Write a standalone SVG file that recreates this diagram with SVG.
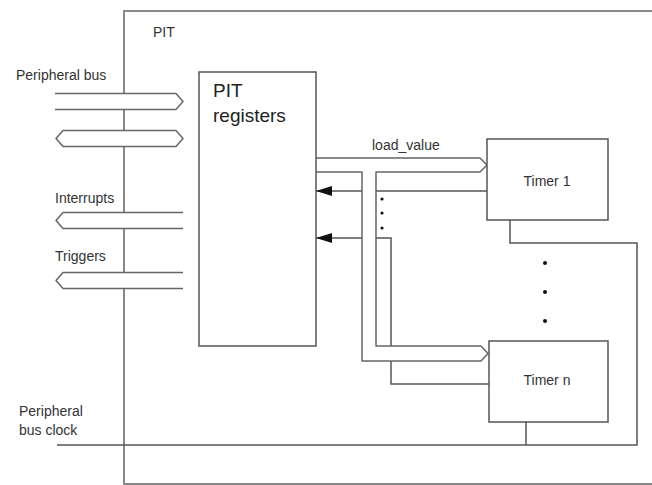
<svg xmlns="http://www.w3.org/2000/svg" width="652" height="485" viewBox="0 0 652 485">
<style>
.ln{fill:none;stroke:#555;stroke-width:1.5}
.bx{fill:#fff;stroke:#555;stroke-width:1.5}
.bus{fill:#fff;stroke:#666;stroke-width:1.5;stroke-linejoin:round}
.t{font-family:"Liberation Sans",Arial,sans-serif;font-size:14px;fill:#333}
.tb{font-family:"Liberation Sans",Arial,sans-serif;font-size:19px;fill:#222}
.dot{fill:#111}
</style>
<defs>
<marker id="ah" viewBox="0 0 16 10" refX="16" refY="5" markerWidth="16" markerHeight="10" markerUnits="userSpaceOnUse" orient="auto">
<path d="M0,0 L16,5 L0,10 Z" fill="#111"/>
</marker>
</defs>
<g id="pit">
<path d="M660,11 H124 V484 H660" fill="none" stroke="#888" stroke-width="2"/>
<text class="t" x="153" y="37">PIT</text>
</g>
<g id="connectors">
<path class="bus" d="M55,93.5 H176 L183,101.5 L176,109.5 H55"/>
<path class="bus" d="M63,130.5 H176 L183,138.5 L176,146.5 H63 L56,138.5 Z"/>
<path class="bus" d="M183,212.5 H63 L56,220.5 L63,228.5 H183"/>
<path class="bus" d="M183,272.5 H63 L56,280.5 L63,288.5 H183"/>
<path class="ln" d="M487,191 H316" marker-end="url(#ah)"/>
<path class="ln" d="M489,384 H391 V238 H316" marker-end="url(#ah)"/>
<path class="bus" d="M316,158 H480 L487,165 L480,172 H376 V346 H481 L488,353.5 L481,361 H362 V172 H316"/>
<path class="ln" d="M57,445 H637 V243 H510 V220"/>
<path class="ln" d="M526,422 V445"/>
<circle class="dot" cx="382" cy="199" r="1.6"/>
<circle class="dot" cx="382" cy="213" r="1.6"/>
<circle class="dot" cx="382" cy="228" r="1.6"/>
<circle class="dot" cx="545" cy="263" r="2"/>
<circle class="dot" cx="545" cy="292" r="2"/>
<circle class="dot" cx="545" cy="321" r="2"/>
<text class="t" x="16" y="80">Peripheral bus</text>
<text class="t" x="55" y="203">Interrupts</text>
<text class="t" x="55" y="261">Triggers</text>
<text class="t" x="372" y="150">load_value</text>
<text class="t" x="19" y="416">Peripheral</text>
<text class="t" x="19" y="435">bus clock</text>
</g>
<g id="pit-registers">
<rect class="bx" x="199" y="72" width="117" height="274"/>
<text class="tb" x="213" y="97">PIT</text>
<text class="tb" x="213" y="122">registers</text>
</g>
<g id="timer-1">
<rect class="bx" x="487" y="139" width="121" height="81"/>
<text class="t" x="547" y="186" text-anchor="middle">Timer 1</text>
</g>
<g id="timer-n">
<rect class="bx" x="489" y="341" width="119" height="81"/>
<text class="t" x="547" y="385" text-anchor="middle">Timer n</text>
</g>
</svg>
